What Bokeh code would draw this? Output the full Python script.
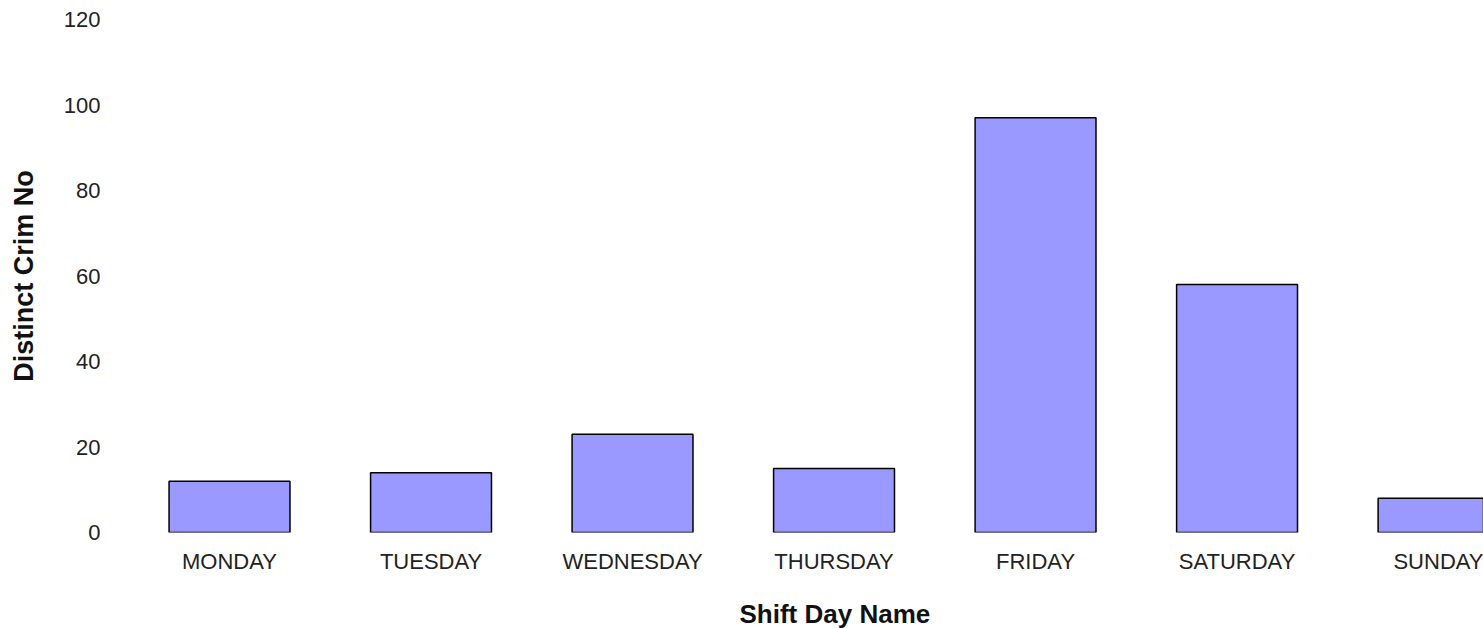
from bokeh.plotting import figure
from bokeh.models import Range1d, FixedTicker, Title, LinearAxis, ColumnDataSource
from bokeh.embed import file_html
from bokeh.resources import INLINE

days = ["MONDAY", "TUESDAY", "WEDNESDAY", "THURSDAY", "FRIDAY", "SATURDAY", "SUNDAY"]
counts = [12, 14, 23, 15, 97, 58, 8]
y_ticks = [0, 20, 40, 60, 80, 100, 120]
x_title = "Shift Day Name"
y_title = "Distinct Crim No"

idx = list(range(len(days)))
src = ColumnDataSource(data=dict(x=idx, top=counts, day=days))

FONT = "Liberation Sans"

p = figure(width=1483, height=628, output_backend="svg", toolbar_location=None,
           x_range=Range1d(-0.541, 6.223), y_range=Range1d(0, 120),
           min_border_left=120, min_border_right=0, min_border_top=19, min_border_bottom=96)
p.outline_line_color = None
p.background_fill_color = "white"
p.border_fill_color = "white"

p.vbar(x="x", top="top", bottom=0, width=0.6, source=src,
       fill_color="#9999ff", line_color="black", line_width=1.5)

p.xgrid.visible = False
p.ygrid.visible = False

p.xaxis.ticker = FixedTicker(ticks=idx)
p.xaxis.major_label_overrides = {i: d for i, d in zip(idx, days)}
p.yaxis.ticker = FixedTicker(ticks=y_ticks)

for ax in (p.xaxis[0], p.yaxis[0]):
    ax.axis_line_color = None
    ax.major_tick_line_color = None
    ax.minor_tick_line_color = None
    ax.major_tick_out = 0
    ax.major_tick_in = 0
    ax.major_label_text_font = FONT
    ax.major_label_text_font_size = "22px"
    ax.major_label_text_color = "#222222"

p.xaxis.major_label_standoff = 16
p.yaxis.major_label_standoff = 20

p.yaxis.axis_label = y_title
p.yaxis.axis_label_text_font = FONT
p.yaxis.axis_label_text_font_style = "bold"
p.yaxis.axis_label_text_font_size = "27px"
p.yaxis.axis_label_text_color = "#111111"
p.yaxis.axis_label_standoff = 22

# invisible spacer axis: leaves room between the tick labels and the x title
spacer = LinearAxis(ticker=FixedTicker(ticks=idx[:1]), axis_line_color=None,
                    major_tick_line_color=None, minor_tick_line_color=None,
                    major_tick_out=20, major_tick_in=0, minor_tick_out=0,
                    major_label_standoff=0, major_label_text_font_size="0px",
                    major_label_text_alpha=0)
p.add_layout(spacer, "below")

# x title, centred under the middle category
p.add_layout(Title(text=x_title, align="left", offset=619, standoff=0,
                   vertical_align="bottom", text_font=FONT, text_font_style="bold",
                   text_font_size="26px", text_color="#111111"), "below")

open("out.html", "w").write(file_html(p, INLINE))
